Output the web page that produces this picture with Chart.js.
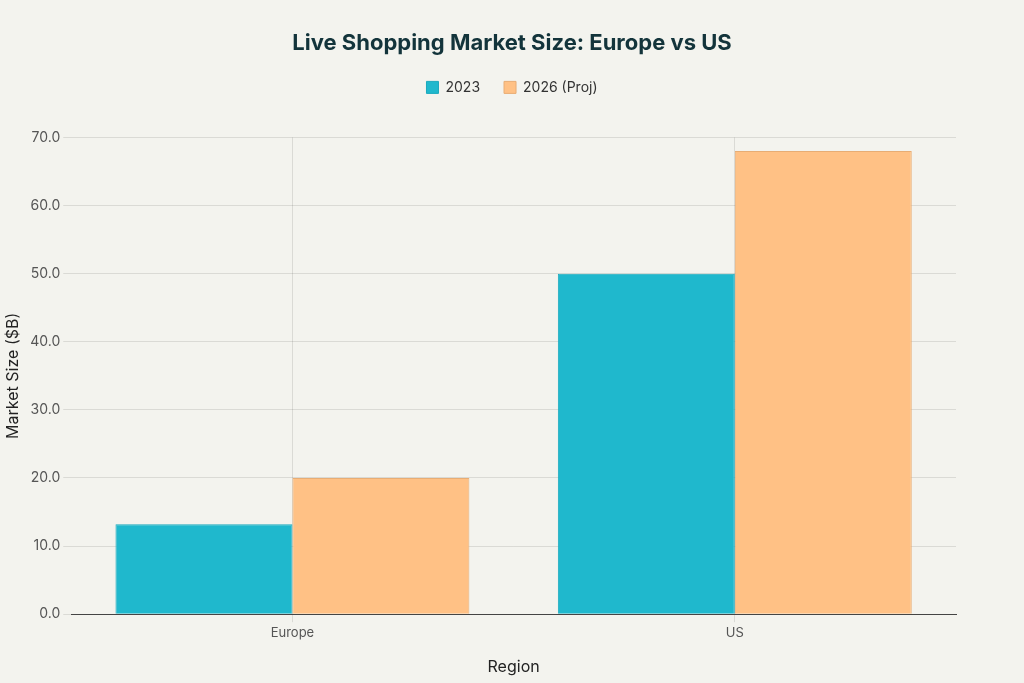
<!DOCTYPE html>
<html>
<head>
<meta charset="utf-8">
<script src="https://cdn.jsdelivr.net/npm/chart.js@4"></script>
<style>
  html, body { margin: 0; padding: 0; background: #f3f3ee; }
  #wrap { width: 1024px; height: 683px; }
</style>
</head>
<body>
<div id="wrap"><canvas id="chart"></canvas></div>
<script>
const regions = ['Europe', 'US'];
const size2023 = [13.2, 50.0];
const size2026 = [20.0, 68.0];

Chart.defaults.font.family = 'Inter, "Open Sans", sans-serif';
Chart.defaults.color = '#333';

// extra space under the legend
const legendSpacer = {
    id: 'legendSpacer',
    beforeInit(chart) {
        const fit = chart.legend.fit;
        chart.legend.fit = function () {
            fit.bind(chart.legend)();
            this.height += 33;
        };
    }
};

new Chart(document.getElementById('chart'), {
    type: 'bar',
    data: {
        labels: regions,
        datasets: [{
            label: '2023',
            data: size2023,
            backgroundColor: '#1FB8CD',
            borderColor: '#1aa9bd',
            borderWidth: 1
        }, {
            label: '2026 (Proj)',
            data: size2026,
            backgroundColor: '#FFC185',
            borderColor: '#e8ad74',
            borderWidth: 1
        }]
    },
    plugins: [legendSpacer],
    options: {
        responsive: true,
        maintainAspectRatio: false,
        animation: false,
        barPercentage: 1,
        categoryPercentage: 0.8,
        layout: { padding: { left: 0, right: 0, top: 10, bottom: 2 } },
        plugins: {
            title: {
                display: true,
                text: 'Live Shopping Market Size: Europe vs US',
                color: '#13343b',
                font: { size: 22, weight: 'bold' },
                padding: { top: 20, bottom: 0 }
            },
            legend: {
                position: 'top',
                labels: { boxWidth: 12, boxHeight: 12, padding: 24, font: { size: 14 } }
            }
        },
        scales: {
            y: {
                min: 0,
                max: 70,
                ticks: { stepSize: 10, callback: v => v.toFixed(1), font: { size: 14 }, color: '#555' },
                grid: { color: 'rgba(0,0,0,0.1)' },
                border: { display: false },
                title: { display: true, text: 'Market Size ($B)', font: { size: 16 }, color: '#222' }
            },
            yRight: {
                position: 'right',
                grid: { display: false },
                ticks: { display: false },
                border: { display: false },
                afterFit(axis) { axis.width = 68; }
            },
            x: {
                grid: { offset: false, color: 'rgba(0,0,0,0.1)' },
                border: { color: '#444' },
                ticks: { font: { size: 13 }, color: '#555' },
                title: { display: true, text: 'Region', font: { size: 16 }, color: '#222', padding: { top: 14 } }
            }
        }
    }
});
</script>
</body>
</html>
